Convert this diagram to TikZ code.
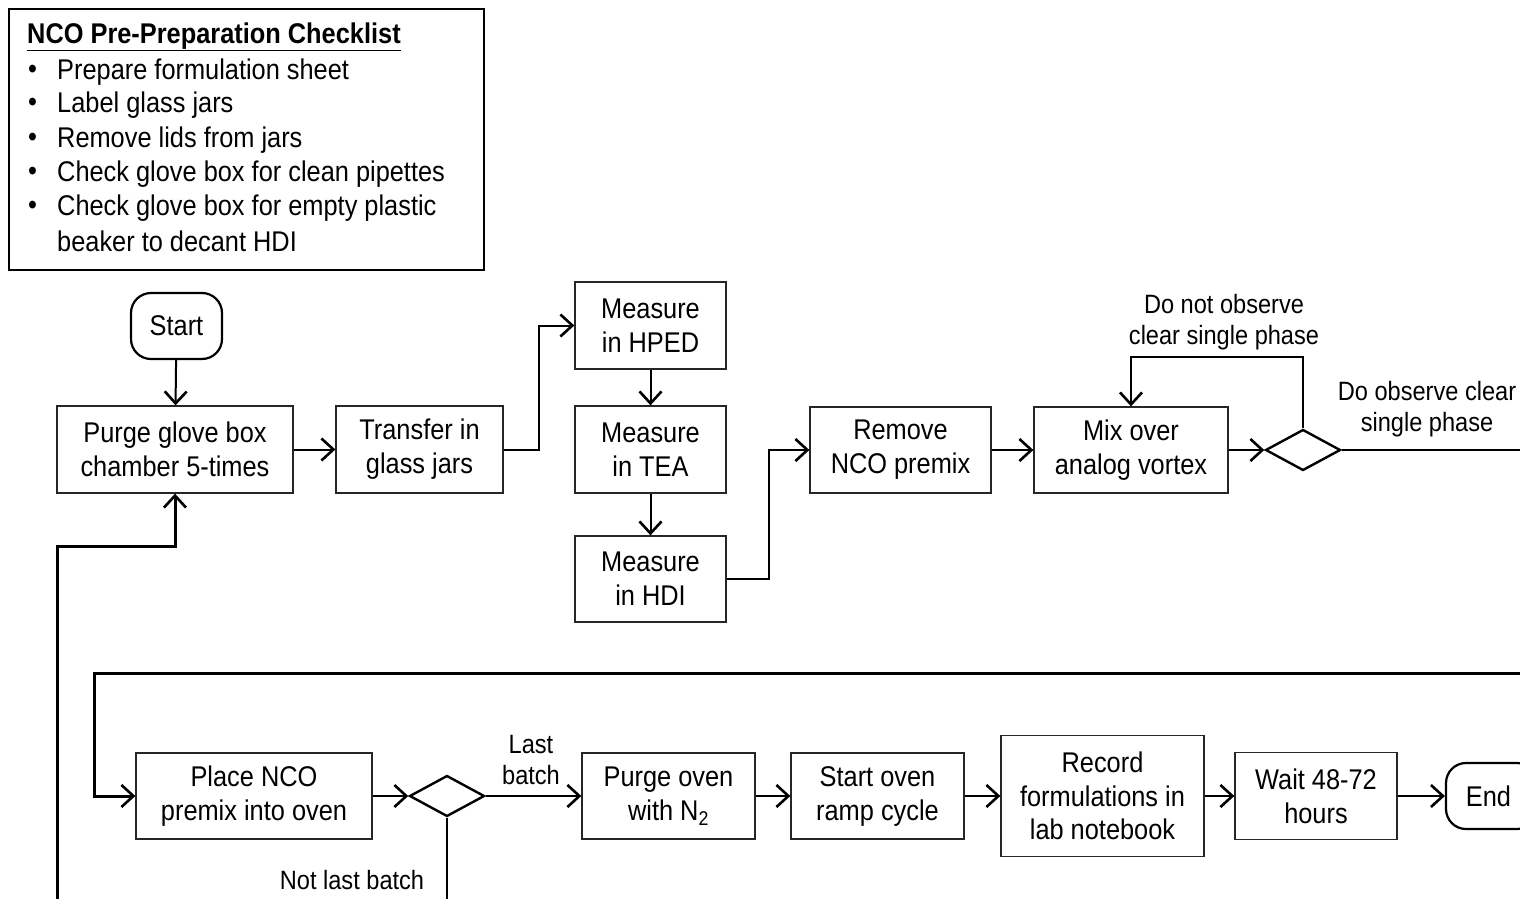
\documentclass[tikz,border=0pt]{standalone}
\usepackage{fontspec}
\setmainfont{Liberation Sans}[FakeStretch=0.89]
\usetikzlibrary{arrows.meta,shapes.geometric,calc}
\begin{document}
\begin{tikzpicture}[x=1pt,y=-1pt,
  every node/.style={font=\fontsize{28.5}{34}\selectfont, text=black},
  procbox/.style={draw=black!85, line width=1.3pt, align=center, inner sep=0pt},
  termbox/.style={draw=black, line width=2.2pt, rounded corners=20pt, inner sep=0pt, align=center},
  decision/.style={draw=black, line width=2.4pt, diamond, inner sep=0pt, minimum width=75pt, minimum height=41pt},
  tip/.style={-{Straight Barb[length=12pt,width=22pt,line width=2.6pt]}},
  flow/.style={line width=2pt, tip},
  plain/.style={line width=2pt},
  heavy/.style={line width=3pt},
  label/.style={align=center, inner sep=0pt, font=\fontsize{26.5}{31}\selectfont},
  item/.style={anchor=west, inner sep=0pt}
]
\useasboundingbox (0,0) rectangle (1520,899);
\clip (0,0) rectangle (1520,899);
\fill[white] (0,0) rectangle (1520,899);

% checklist panel
\node[draw=black, line width=2pt, minimum width=475pt, minimum height=261pt, inner sep=0pt] (panel) at (246.5,139.5) {};
\node[item, font=\fontsize{28.5}{34}\selectfont\bfseries] (ttl) at (27,37) {\underline{NCO Pre-Preparation Checklist}};
\foreach \y/\t/\nm in {72/Prepare formulation sheet/c1, 105/Label glass jars/c2, 140/Remove lids from jars/c3, 174/Check glove box for clean pipettes/c4, 208/Check glove box for empty plastic/c5}{
  \node[item] (b\nm) at (28,\y) {\textbullet};
  \node[item] (\nm) at (57,\y) {\t};
}
\node[item] (c6) at (57,241) {beaker to decant HDI};

% first row
\node[termbox, minimum width=91pt, minimum height=66pt] (start) at (176.5,326) {Start};
\node[procbox, minimum width=236pt, minimum height=87pt] (purge) at (175,449.5) {Purge glove box\\chamber 5-times};
\node[procbox, minimum width=167pt, minimum height=87pt] (transfer) at (419.5,449.5) {Transfer in\\glass jars};
\node[procbox, minimum width=151pt, minimum height=87pt] (hped) at (650.5,325.5) {Measure\\in HPED};
\node[procbox, minimum width=151pt, minimum height=87pt] (tea) at (650.5,449.5) {Measure\\in TEA};
\node[procbox, minimum width=151pt, minimum height=86pt] (hdi) at (650.5,579) {Measure\\in HDI};
\node[procbox, minimum width=181pt, minimum height=86pt] (remove) at (900.5,450) {Remove\\NCO premix};
\node[procbox, minimum width=194pt, minimum height=86pt] (mix) at (1131,450) {Mix over\\analog vortex};
\node[decision] (d1) at (1303,450) {};
\node[label] (lno) at (1224,322) {Do not observe\\clear single phase};
\node[label] (lyes) at (1427,409) {Do observe clear\\single phase};
\coordinate (d1out) at (1520,450);

% second row
\node[procbox, minimum width=236pt, minimum height=86pt] (place) at (254,796) {Place NCO\\premix into oven};
\node[decision] (d2) at (447,796) {};
\node[label] (llast) at (531,760) {Last\\batch};
\node[label] (lnot) at (352,880) {Not last batch};
\node[procbox, minimum width=173pt, minimum height=86pt] (poven) at (668.5,796) {Purge oven\\with N\textsubscript{2}};
\node[procbox, minimum width=173pt, minimum height=86pt] (soven) at (877.5,796) {Start oven\\ramp cycle};
\node[procbox, minimum width=203pt, minimum height=121pt, font=\fontsize{28.5}{33.5}\selectfont] (record) at (1102.5,796) {Record\\formulations in\\lab notebook};
\node[procbox, minimum width=162pt, minimum height=87pt] (wait) at (1316,796) {Wait 48-72\\hours};
\node[termbox, minimum width=91pt, minimum height=66pt, text width=91pt] (end) at (1491.5,796) {\hspace*{-6pt}End};

\coordinate (topin) at (1520,673);
\coordinate (d2down) at (447,899);
\coordinate (backin) at (57,899);

% connectors
\draw[flow] (start) -- (purge);
\draw[flow] (purge) -- (transfer);
\draw[flow] (transfer.east) -- ++(35,0) |- (hped.west);
\draw[flow] (hped) -- (tea);
\draw[flow] (tea) -- (hdi);
\draw[flow] (hdi.east) -- ++(42,0) |- (remove.west);
\draw[flow] (remove) -- (mix);
\draw[flow] (mix) -- (d1);
\draw[flow] (d1.north) -- ++(0,-71) -| (mix.north);
\draw[plain] (d1.east) -- (d1out);

\draw[heavy, tip] (topin) -- (94,673) |- (place.west);
\draw[flow] (place) -- (d2);
\draw[flow] (d2.east) -- (poven.west);
\draw[flow] (poven) -- (soven);
\draw[flow] (soven) -- (record);
\draw[flow] (record) -- (wait);
\draw[flow] (wait) -- (end);
\draw[plain] (d2.south) -- (d2down);
\draw[heavy, tip] (backin) -- (57,546) -| (purge.south);
\end{tikzpicture}
\end{document}
